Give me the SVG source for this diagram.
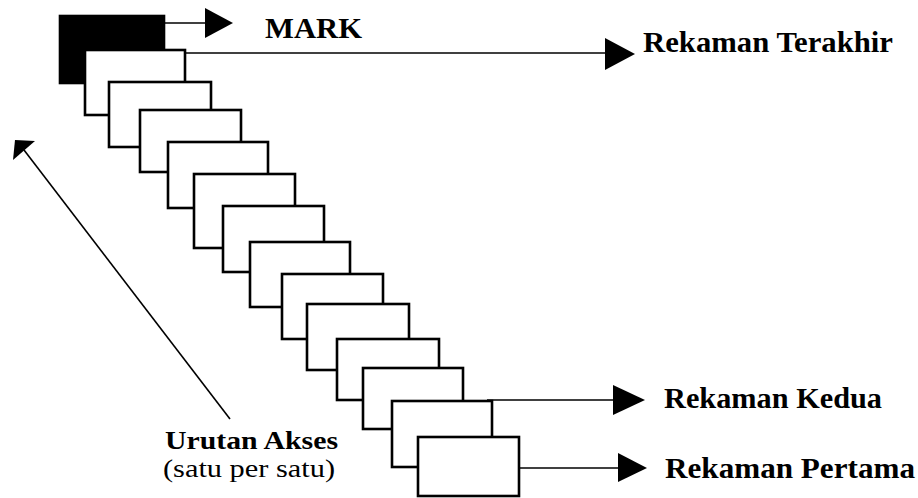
<svg xmlns="http://www.w3.org/2000/svg" width="918" height="498" viewBox="0 0 918 498">
  <style>
    .rec { fill: #ffffff; stroke: #000000; stroke-width: 2.6; }
    .mark { fill: #000000; stroke: #000000; stroke-width: 2.6; }
    .wire { stroke: #000000; stroke-width: 1.6; fill: none; }
    .head { fill: #000000; stroke: none; }
    .lbl { font-family: "Liberation Serif", "Times New Roman", serif; font-size: 29px; fill: #000000; }
    .b { font-weight: bold; }
    .sm { font-size: 26px; }
    .xs { font-size: 25px; }
  </style>

  <!-- stacked records, drawn back to front -->
  <g id="mark-block"><rect class="mark" x="60" y="16" width="104" height="67"/></g>
  <g id="rec-1"><rect class="rec" x="85" y="50" width="100" height="65"/></g>
  <g id="rec-2"><rect class="rec" x="109" y="82" width="102" height="65"/></g>
  <g id="rec-3"><rect class="rec" x="140" y="110" width="101" height="62"/></g>
  <g id="rec-4"><rect class="rec" x="168" y="142" width="100" height="66"/></g>
  <g id="rec-5"><rect class="rec" x="194" y="174" width="101" height="74"/></g>
  <g id="rec-6"><rect class="rec" x="223" y="206" width="101" height="66"/></g>
  <g id="rec-7"><rect class="rec" x="250" y="242" width="100" height="65"/></g>
  <g id="rec-8"><rect class="rec" x="282" y="274" width="101" height="65"/></g>
  <g id="rec-9"><rect class="rec" x="307" y="304" width="102" height="66"/></g>
  <g id="rec-10"><rect class="rec" x="337" y="339" width="102" height="61"/></g>
  <g id="rec-11"><rect class="rec" x="363" y="368" width="100" height="61"/></g>
  <g id="rec-12"><rect class="rec" x="392" y="401" width="100" height="66"/></g>
  <g id="rec-13"><rect class="rec" x="418" y="437" width="101" height="59"/></g>

  <!-- pointer arrows -->
  <g id="connectors">
    <line class="wire" x1="164" y1="23" x2="207" y2="23"/>
    <polygon class="head" points="205,8 233,23 205,38"/>

    <line class="wire" x1="184" y1="53" x2="607" y2="53"/>
    <polygon class="head" points="605,38 635,54 605,70"/>

    <line class="wire" x1="487" y1="400" x2="615" y2="400"/>
    <polygon class="head" points="613,385 645,400 613,415"/>

    <line class="wire" x1="519" y1="468" x2="620" y2="468"/>
    <polygon class="head" points="618,453 647,468 618,482"/>

    <!-- access order -->
    <line class="wire" x1="230" y1="419" x2="24" y2="150"/>
    <polygon class="head" points="15,140 35,141 13,160"/>
  </g>

  <!-- labels -->
  <g id="labels">
    <text class="lbl b" x="265" y="38" textLength="97" lengthAdjust="spacingAndGlyphs">MARK</text>
    <text class="lbl b" x="643" y="52" textLength="250" lengthAdjust="spacingAndGlyphs">Rekaman Terakhir</text>
    <text class="lbl b" x="664" y="408" textLength="218" lengthAdjust="spacingAndGlyphs">Rekaman Kedua</text>
    <text class="lbl b" x="665" y="478" textLength="250" lengthAdjust="spacingAndGlyphs">Rekaman Pertama</text>
    <text class="lbl b sm" x="165" y="449" textLength="173" lengthAdjust="spacingAndGlyphs">Urutan Akses</text>
    <text class="lbl xs" x="163" y="477" textLength="172" lengthAdjust="spacingAndGlyphs">(satu per satu)</text>
  </g>
</svg>
